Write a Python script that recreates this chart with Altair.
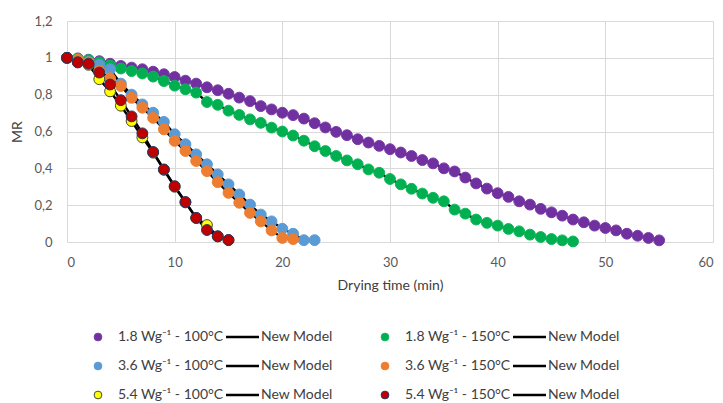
import altair as alt
import pandas as pd

# ---------------- data ----------------
series_names = [
    "1.8 Wg⁻¹ - 100°C", "1.8 Wg⁻¹ - 150°C",
    "3.6 Wg⁻¹ - 100°C", "3.6 Wg⁻¹ - 150°C",
    "5.4 Wg⁻¹ - 100°C", "5.4 Wg⁻¹ - 150°C",
]
model_label = "New Model"

mr_18_100 = [1.000, 0.997, 0.990, 0.982, 0.968, 0.956, 0.947, 0.938, 0.925, 0.911,
             0.896, 0.876, 0.860, 0.840, 0.824, 0.805, 0.784, 0.765, 0.738, 0.720,
             0.702, 0.689, 0.670, 0.645, 0.622, 0.598, 0.580, 0.558, 0.540, 0.522,
             0.504, 0.486, 0.467, 0.445, 0.427, 0.400, 0.383, 0.350, 0.318, 0.290,
             0.265, 0.245, 0.221, 0.203, 0.180, 0.161, 0.143, 0.122, 0.107, 0.089,
             0.076, 0.063, 0.045, 0.034, 0.022, 0.009]
mr_18_150 = [1.000, 0.995, 0.988, 0.975, 0.958, 0.942, 0.928, 0.915, 0.898, 0.874,
             0.849, 0.829, 0.811, 0.760, 0.745, 0.713, 0.690, 0.666, 0.647, 0.621,
             0.600, 0.578, 0.550, 0.520, 0.494, 0.467, 0.443, 0.422, 0.394, 0.376,
             0.342, 0.313, 0.289, 0.263, 0.240, 0.221, 0.176, 0.154, 0.122, 0.104,
             0.089, 0.071, 0.058, 0.040, 0.027, 0.016, 0.009, 0.003]
mr_36_100 = [1.000, 0.990, 0.978, 0.962, 0.938, 0.860, 0.800, 0.747, 0.702, 0.652,
             0.585, 0.531, 0.476, 0.422, 0.367, 0.313, 0.258, 0.203, 0.149, 0.112,
             0.072, 0.045, 0.010, 0.010]
mr_36_150 = [1.000, 0.990, 0.975, 0.930, 0.889, 0.847, 0.783, 0.729, 0.674, 0.612,
             0.549, 0.494, 0.440, 0.385, 0.325, 0.267, 0.213, 0.158, 0.112, 0.063,
             0.022, 0.016]
mr_54_100 = [1.000, 0.976, 0.962, 0.884, 0.818, 0.740, 0.657, 0.568, 0.485, 0.392,
             0.300, 0.215, 0.130, 0.092, 0.030, 0.010]
mr_54_150 = [1.000, 0.975, 0.968, 0.920, 0.855, 0.770, 0.682, 0.590, 0.489, 0.394,
             0.303, 0.217, 0.131, 0.065, 0.031, 0.011]

all_mr = [mr_18_100, mr_18_150, mr_36_100, mr_36_150, mr_54_100, mr_54_150]

x_ticks = [0, 10, 20, 30, 40, 50, 60]
y_ticks = [0, 0.2, 0.4, 0.6, 0.8, 1.0, 1.2]

fill_colors = ["#7030A0", "#00B050", "#5B9BD5", "#ED7D31", "#FFFF00", "#C00000"]
stroke_colors = ["#7a3aa8", "#0db85a", "#5b9bd5", "#ed7d31", "#4a4a30", "#1f3864"]

rows = []
for order, (name, mrs) in enumerate(zip(series_names, all_mr)):
    for t, v in enumerate(mrs):
        rows.append({"series": name, "order": order, "time": t, "MR": v})
df = pd.DataFrame(rows)

FONT = "Lato"
W, H = 646, 221

x_enc = alt.X("time:Q", scale=alt.Scale(domain=[0, 60], nice=False),
              axis=alt.Axis(values=x_ticks, title="Drying time (min)",
                            labelPadding=14, titlePadding=9))
y_enc = alt.Y("MR:Q", scale=alt.Scale(domain=[0, 1.2], nice=False),
              axis=alt.Axis(values=y_ticks, title="MR", labelPadding=15,
                            titlePadding=9,
                            labelExpr="replace(toString(round(datum.value*10)/10), '.', ',')"))

lines = alt.Chart(df).mark_line(color="black", strokeWidth=2.4).encode(
    x=x_enc, y=y_enc, detail="series:N", order="time:Q")

points = alt.Chart(df).mark_point(filled=True, size=118, opacity=1, strokeWidth=1).encode(
    x=x_enc, y=y_enc,
    fill=alt.Fill("series:N", scale=alt.Scale(domain=series_names, range=fill_colors), legend=None),
    stroke=alt.Stroke("series:N", scale=alt.Scale(domain=series_names, range=stroke_colors), legend=None),
    order="order:Q",
)

# --------- custom legend (two columns, three rows) below the plot ---------
dummy = pd.DataFrame({"k": [0]})
legend_layers = []
col_dx = 287
row_dy = 29
for i, name in enumerate(series_names):
    col, row = i % 2, i // 2
    y0 = 316 + row * row_dy
    xc = 31 + col * col_dx
    legend_layers.append(
        alt.Chart(dummy).mark_point(filled=True, size=60, opacity=1, strokeWidth=1,
                                    fill=fill_colors[i], stroke=stroke_colors[i])
        .encode(x=alt.value(xc), y=alt.value(y0)))
    legend_layers.append(
        alt.Chart(dummy).mark_text(text=name, align="left", baseline="middle",
                                   font=FONT, fontSize=14, color="#404040")
        .encode(x=alt.value(xc + 20), y=alt.value(y0)))
    legend_layers.append(
        alt.Chart(dummy).mark_rule(color="black", strokeWidth=2.5)
        .encode(x=alt.value(xc + 128), x2=alt.value(xc + 161), y=alt.value(y0)))
    legend_layers.append(
        alt.Chart(dummy).mark_text(text=model_label, align="left", baseline="middle",
                                   font=FONT, fontSize=14, color="#404040")
        .encode(x=alt.value(xc + 163), y=alt.value(y0)))

chart = alt.layer(lines, points, *legend_layers).properties(
    width=W, height=H,
    padding={"left": 67, "top": 21, "right": 10, "bottom": 161},
    autosize=alt.AutoSizeParams(type="none"),
    background="white",
).configure_view(stroke=None).configure_axis(
    domain=False, ticks=False, grid=True, gridColor="#D9D9D9", gridWidth=1,
    labelFont=FONT, labelFontSize=13, labelColor="#595959",
    titleFont=FONT, titleFontSize=14, titleFontWeight="normal", titleColor="#404040",
)

chart.save("out.html", embed_options={"renderer": "svg", "actions": False})
